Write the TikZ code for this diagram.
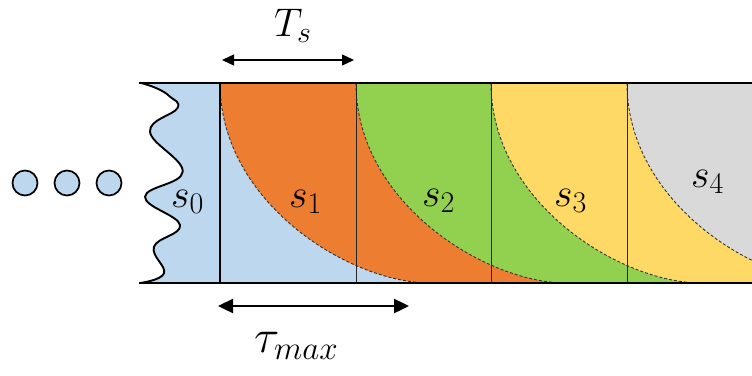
\documentclass[tikz,border=0pt]{standalone}
\usepackage{fix-cm}
\usetikzlibrary{arrows.meta}
\definecolor{sblue}{HTML}{BDD7EE}
\definecolor{sorange}{HTML}{ED7D31}
\definecolor{sgreen}{HTML}{92D050}
\definecolor{syellow}{HTML}{FFD966}
\definecolor{sgray}{HTML}{D9D9D9}
\newcommand\slotregion[2]{%
  \fill[#2] (#1,83) .. controls (#1,203) and (#1+130,283) .. (#1+210,283) -- (900,283) -- (900,83) -- cycle;
  \draw[slotcurve] (#1,83) .. controls (#1,203) and (#1+130,283) .. (#1+210,283);
}
\newcommand\subsz[1]{\mbox{\fontsize{30}{33}\selectfont$#1$}}
\newcommand\subszb[1]{\mbox{\fontsize{33}{36}\selectfont$#1$}}
\begin{document}
\begin{tikzpicture}[x=1pt,y=-1pt,
  slotcurve/.style={draw=black!80, dash pattern=on 3pt off 2pt, line width=0.9pt},
  thickline/.style={line width=2.8pt, line cap=rect},
  thinline/.style={line width=1pt, draw=black!85},
  dotnode/.style={circle, minimum size=25pt, inner sep=0pt, fill=sblue, draw=black, line width=1.7pt},
  slab/.style={inner sep=0pt, anchor=base west, font=\fontsize{40}{44}\selectfont},
  dimarrow/.style={{Triangle[length=12pt,width=11pt]}-{Triangle[length=12pt,width=11pt]}, line width=1.4pt},
  dimarrowb/.style={{Triangle[length=15pt,width=14pt]}-{Triangle[length=15pt,width=14pt]}, line width=2.4pt}]
\useasboundingbox (0,0) rectangle (752,375);

% dots
\node[dotnode] (d1) at (25,183) {};
\node[dotnode] (d2) at (67,183) {};
\node[dotnode] (d3) at (109,183) {};

% regions
\begin{scope}
\clip (0,83) rectangle (752,283);
\fill[sblue] plot[smooth, tension=0.7] coordinates {(140,82.7) (156.7,88.3) (170,96.7) (177.3,108.3) (150,131.7) (182.7,171.7) (145,196.7) (180,225) (154,246.7) (164,273.3) (140,283)} -- (900,283) -- (900,83) -- cycle;
\slotregion{220}{sorange}
\slotregion{356}{sgreen}
\slotregion{491}{syellow}
\slotregion{627}{sgray}
\end{scope}

\draw[line width=1.9pt] plot[smooth, tension=0.7] coordinates {(140,82.7) (156.7,88.3) (170,96.7) (177.3,108.3) (150,131.7) (182.7,171.7) (145,196.7) (180,225) (154,246.7) (164,273.3) (140,283)};

% slot boundaries
\draw[thinline] (356,83) -- (356,283);
\draw[thinline] (491,83) -- (491,283);
\draw[thinline] (627,83) -- (627,283);
\draw[thickline] (140,83) -- (752,83);
\draw[thickline] (140,283) -- (752,283);
\draw[line width=2.8pt] (220,83) -- (220,283);

% labels
\node[slab] (s0) at (171,207) {$s_{\subsz{0}}$};
\node[slab] (s1) at (289,207) {$s_{\subsz{1}}$};
\node[slab] (s2) at (422,206) {$s_{\subsz{2}}$};
\node[slab] (s3) at (554,206) {$s_{\subsz{3}}$};
\node[slab] (s4) at (691,187) {$s_{\subsz{4}}$};

% T_s
\coordinate (tsl) at (222,60);
\coordinate (tsr) at (354,60);
\draw[dimarrow] (tsl) -- (tsr);
\node[slab] (ts) at (274,36) {$T_{\subsz{s}}$};

% tau_max
\coordinate (taul) at (218,306);
\coordinate (taur) at (409,306);
\draw[dimarrowb] (taul) -- (taur);
\node[slab, font=\fontsize{47}{50}\selectfont] (tau) at (254,352) {$\tau_{\subszb{max}}$};
\end{tikzpicture}
\end{document}
